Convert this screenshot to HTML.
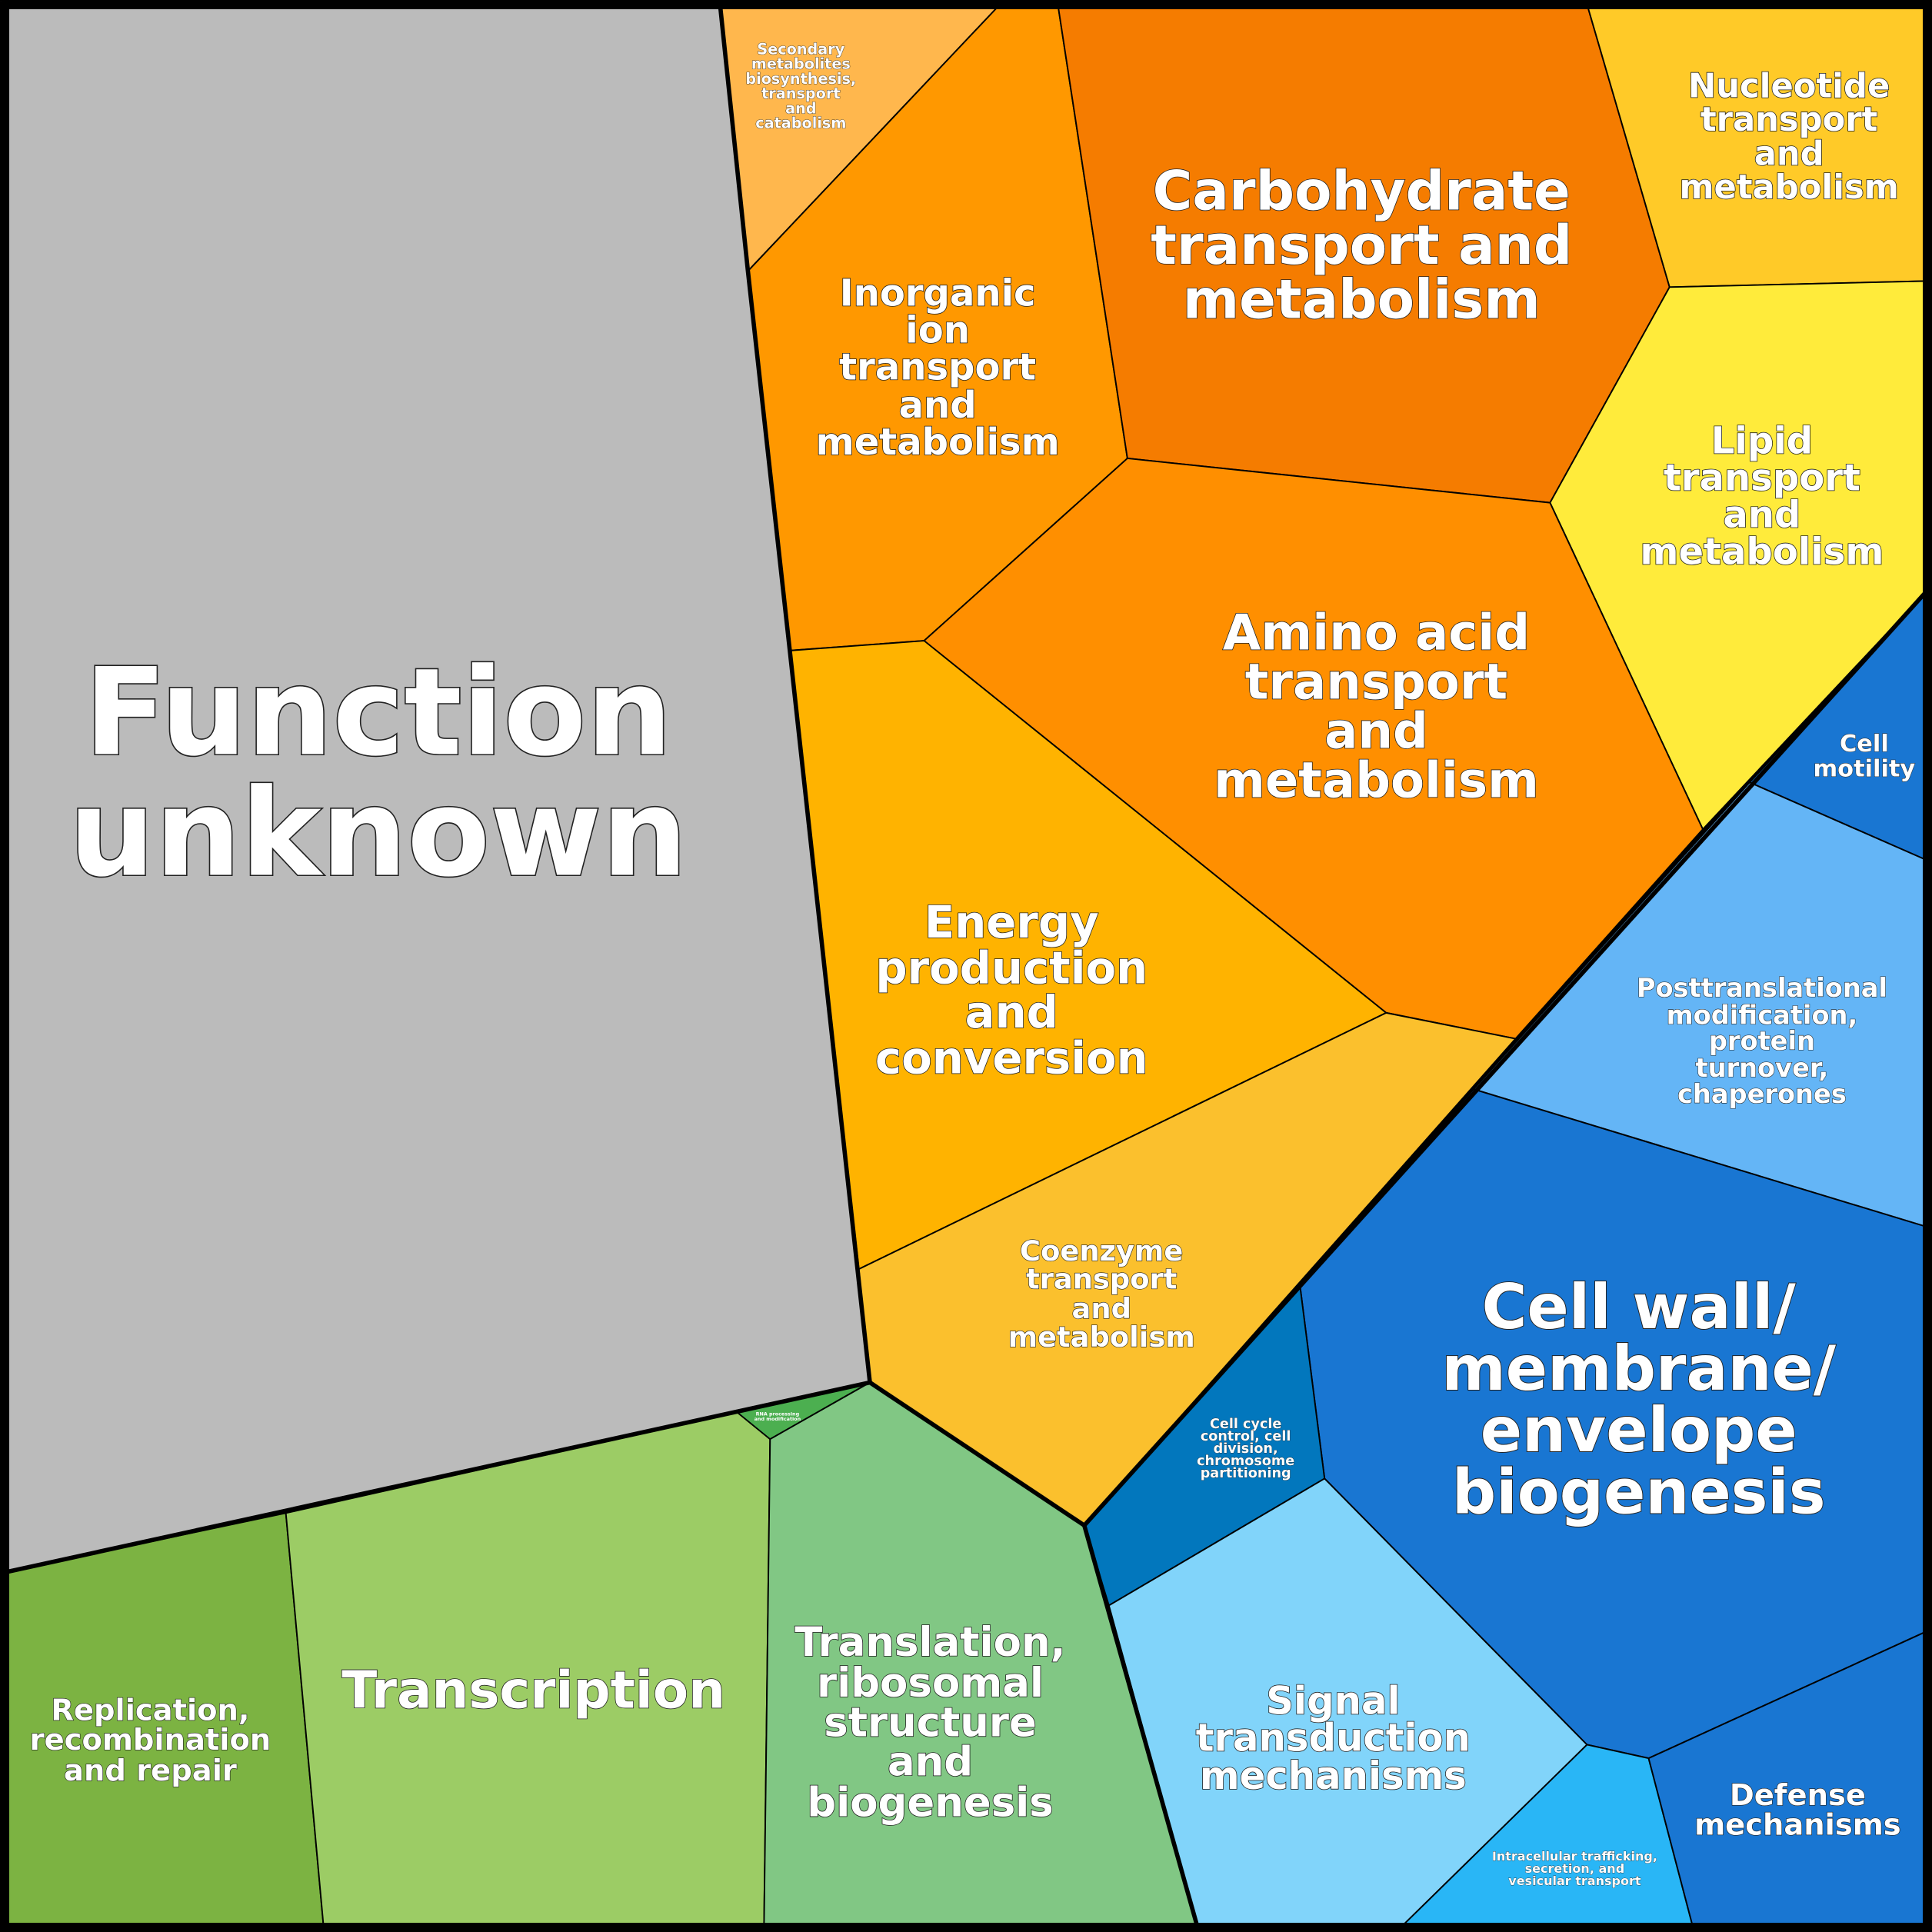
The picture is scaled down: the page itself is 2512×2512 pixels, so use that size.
<!DOCTYPE html>
<html><head><meta charset="utf-8">
<style>
html,body{margin:0;padding:0;background:#000;}
svg{display:block;}
text{font-family:"DejaVu Sans","Liberation Sans",sans-serif;font-weight:bold;fill:#fff;stroke:#222;paint-order:stroke;text-anchor:middle;}
</style></head><body>
<svg width="2512" height="2512" viewBox="0 0 1568 1568" xmlns="http://www.w3.org/2000/svg">
<g stroke="#000" stroke-width="1.2" stroke-linejoin="round">
<polygon fill="#bbbbbb" points="0,0 584,0 607,220 641,528 706,1122 0,1277"/>
<polygon fill="#ffb74d" points="584,0 815,0 607,220"/>
<polygon fill="#ff9800" points="815,0 858,0 915,372 750,520 641,528 607,220"/>
<polygon fill="#f57c00" points="858,0 1287,0 1355,233 1258,408 915,372"/>
<polygon fill="#ffca28" points="1287,0 1568,0 1568,228 1355,233"/>
<polygon fill="#ffeb3b" points="1355,233 1568,228 1568,475 1382,673 1258,408"/>
<polygon fill="#ff8f00" points="915,372 1258,408 1382,673 1230,843 1125,822 750,520"/>
<polygon fill="#ffb300" points="641,528 750,520 1125,822 697,1030"/>
<polygon fill="#fbc02d" points="697,1030 1125,822 1230,843 880,1238 706,1122"/>
<polygon fill="#1976d2" points="1568,475 1568,700 1420,635"/>
<polygon fill="#64b5f6" points="1420,635 1568,700 1568,997 1196,884"/>
<polygon fill="#1976d2" points="1196,884 1568,997 1568,1322 1338,1427 1288,1416 1075,1200 1055,1043"/>
<polygon fill="#0277bd" points="1055,1043 1075,1200 900,1303 880,1238"/>
<polygon fill="#81d4fa" points="900,1303 1075,1200 1288,1416 1133,1568 973,1568"/>
<polygon fill="#29b6f6" points="1288,1416 1338,1427 1375,1568 1133,1568"/>
<polygon fill="#1976d2" points="1338,1427 1568,1322 1568,1568 1375,1568"/>
<polygon fill="#7cb342" points="0,1277 232,1228 263,1568 0,1568"/>
<polygon fill="#9ccc65" points="232,1228 598,1146 625,1168 620,1568 263,1568"/>
<polygon fill="#4caf50" points="598,1146 706,1122 625,1168"/>
<polygon fill="#81c784" points="625,1168 706,1122 880,1238 973,1568 620,1568"/>
</g>
<g fill="none" stroke="#000" stroke-width="3.5" stroke-linejoin="round">
<polyline points="584,0 607,220 641,528 706,1122 0,1277"/>
<polyline points="1568,475 880,1238 706,1122"/>
<polyline points="880,1238 973,1568"/>
<rect x="3.5" y="3.5" width="1561" height="1561" stroke-width="8"/>
</g>
<text x="307" y="612" font-size="98" stroke-width="2">Function</text>
<text x="307" y="710" font-size="98" stroke-width="2">unknown</text>
<g font-size="12" stroke-width="0.5"><text x="650" y="44">Secondary</text><text x="650" y="56">metabolites</text><text x="650" y="68">biosynthesis,</text><text x="650" y="80">transport</text><text x="650" y="92">and</text><text x="650" y="104">catabolism</text></g>
<g font-size="30" stroke-width="1"><text x="761" y="248">Inorganic</text><text x="761" y="278">ion</text><text x="761" y="308">transport</text><text x="761" y="339">and</text><text x="761" y="369">metabolism</text></g>
<g font-size="44" stroke-width="1"><text x="1105" y="170">Carbohydrate</text><text x="1105" y="214">transport and</text><text x="1105" y="258">metabolism</text></g>
<g font-size="27" stroke-width="1"><text x="1452" y="79">Nucleotide</text><text x="1452" y="106">transport</text><text x="1452" y="134">and</text><text x="1452" y="161">metabolism</text></g>
<g font-size="30" stroke-width="1"><text x="1430" y="368">Lipid</text><text x="1430" y="398">transport</text><text x="1430" y="428">and</text><text x="1430" y="458">metabolism</text></g>
<g font-size="40" stroke-width="1"><text x="1117" y="527">Amino acid</text><text x="1117" y="567">transport</text><text x="1117" y="607">and</text><text x="1117" y="647">metabolism</text></g>
<g font-size="36" stroke-width="1"><text x="821" y="761">Energy</text><text x="821" y="798">production</text><text x="821" y="834">and</text><text x="821" y="871">conversion</text></g>
<g font-size="23" stroke-width="0.8"><text x="894" y="1023">Coenzyme</text><text x="894" y="1046">transport</text><text x="894" y="1070">and</text><text x="894" y="1093">metabolism</text></g>
<g font-size="19" stroke-width="0.6"><text x="1513" y="610">Cell</text><text x="1513" y="630">motility</text></g>
<g font-size="21" stroke-width="0.7"><text x="1430" y="809">Posttranslational</text><text x="1430" y="831">modification,</text><text x="1430" y="852">protein</text><text x="1430" y="874">turnover,</text><text x="1430" y="895">chaperones</text></g>
<g font-size="50" stroke-width="1.2"><text x="1330" y="1078">Cell wall/</text><text x="1330" y="1128">membrane/</text><text x="1330" y="1178">envelope</text><text x="1330" y="1228">biogenesis</text></g>
<g font-size="11" stroke-width="0.4"><text x="1011" y="1159">Cell cycle</text><text x="1011" y="1169">control, cell</text><text x="1011" y="1179">division,</text><text x="1011" y="1189">chromosome</text><text x="1011" y="1199">partitioning</text></g>
<g font-size="31" stroke-width="1"><text x="1082" y="1391">Signal</text><text x="1082" y="1421">transduction</text><text x="1082" y="1452">mechanisms</text></g>
<g font-size="10" stroke-width="0.4"><text x="1278" y="1510">Intracellular trafficking,</text><text x="1278" y="1520">secretion, and</text><text x="1278" y="1530">vesicular transport</text></g>
<g font-size="24" stroke-width="0.8"><text x="1459" y="1465">Defense</text><text x="1459" y="1489">mechanisms</text></g>
<g font-size="24" stroke-width="0.8"><text x="122" y="1396">Replication,</text><text x="122" y="1420">recombination</text><text x="122" y="1445">and repair</text></g>
<text x="433" y="1386" font-size="42" stroke-width="1">Transcription</text>
<g font-size="4" stroke-width="0"><text x="631" y="1149">RNA processing</text><text x="631" y="1153">and modification</text></g>
<g font-size="33" stroke-width="1"><text x="755" y="1344">Translation,</text><text x="755" y="1377">ribosomal</text><text x="755" y="1409">structure</text><text x="755" y="1441">and</text><text x="755" y="1474">biogenesis</text></g>
</svg>
</body></html>
